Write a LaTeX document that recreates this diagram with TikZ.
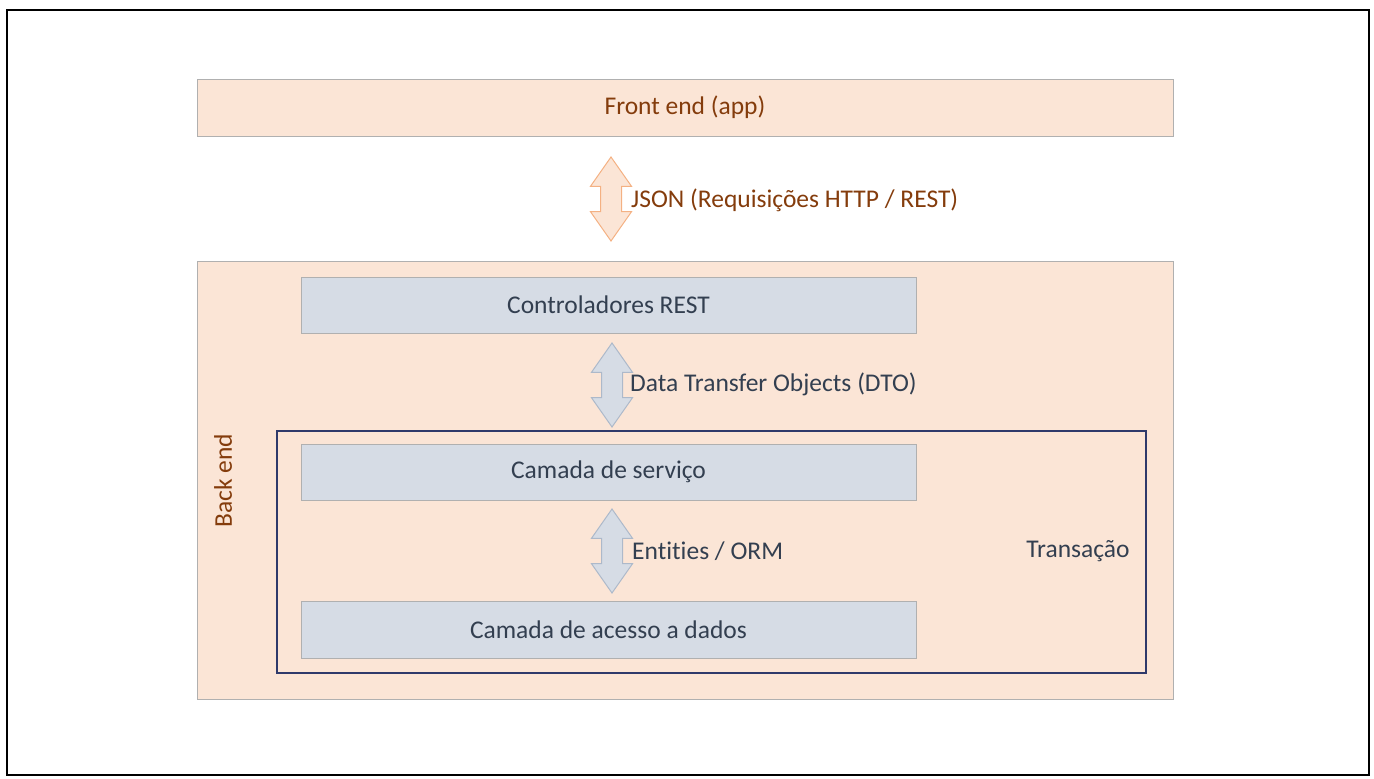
\documentclass[tikz,border=0pt]{standalone}
\usepackage{fontspec}
\setmainfont[Ligatures=NoCommon]{Carlito}
\usetikzlibrary{shapes.arrows}

\definecolor{peach}{HTML}{FBE5D6}
\definecolor{peachline}{HTML}{F4B183}
\definecolor{brownText}{HTML}{843C0C}
\definecolor{blueFill}{HTML}{D6DCE5}
\definecolor{blueLine}{HTML}{ADB9CA}
\definecolor{darkText}{HTML}{333F50}
\definecolor{navy}{HTML}{2F3A6B}
\definecolor{boxLine}{HTML}{B0B0B0}

\tikzset{
  bloco/.style={draw=boxLine, line width=1pt, fill=peach, text=brownText,
    minimum width=976pt, inner sep=0pt},
  camada/.style={draw=boxLine, line width=1pt, fill=blueFill, text=darkText,
    minimum width=615pt, minimum height=56pt, inner sep=0pt},
  seta/.style={shape=double arrow, draw=blueLine, fill=blueFill, line width=1pt,
    rotate=90, minimum height=84pt, minimum width=40pt, inner sep=0pt, inner ysep=10pt,
    double arrow head extend=10pt, double arrow tip angle=70},
  rotulo/.style={anchor=west, text=darkText, inner sep=0pt}
}

\begin{document}
\begin{tikzpicture}[x=1pt,y=-1pt,font=\fontsize{25.5}{30}\selectfont]
   \useasboundingbox (0,0) rectangle (1374,779);
   \draw[line width=2pt] (7,10) rectangle (1369,775);

   % front end e back end
   \node[bloco, minimum height=57pt] (front) at (685,107.5) {Front end (app)};
   \node[bloco, minimum height=438pt] (back) at (685,480) {};
   \node[rotate=90, text=brownText] (backlabel) at (223,481) {Back end};

   \node[seta, draw=peachline, fill=peach] (json) at (611,199) {};
   \node[rotulo, text=brownText] (jsonlabel) at (631,200) {JSON (Requisições HTTP / REST)};

   % camadas
   \node[camada] (ctrl) at (608.5,305) {Controladores REST};
   \node[draw=navy, line width=1.2pt, minimum width=869pt, minimum height=242pt]
      (trans) at (711.5,552) {};
   \node[text=darkText] (translabel) at (1078,551) {Transação};
   \node[camada] (serv) at (608.5,472) {Camada de serviço};
   \node[camada, minimum height=57pt] (dados) at (608.5,629.5) {Camada de acesso a dados};

   \node[seta] (dto) at (612,385) {};
   \node[rotulo] (dtolabel) at (630,384) {Data Transfer Objects (DTO)};
   \node[seta] (orm) at (612,551) {};
   \node[rotulo] (ormlabel) at (632,551) {Entities / ORM};

 \end{tikzpicture}
\end{document}
